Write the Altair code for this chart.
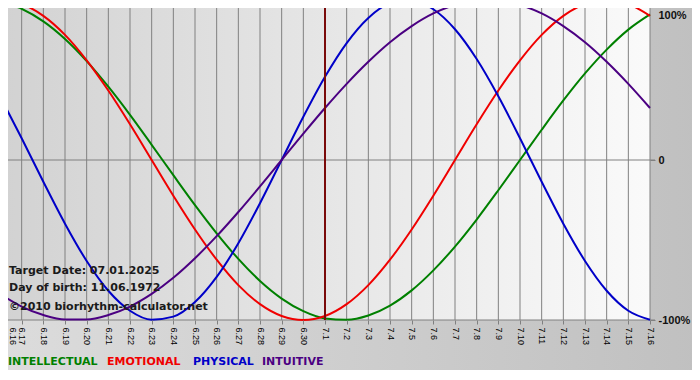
import json
import altair as alt
import pandas as pd

# ---------------- data ----------------
dates = ["6.16", "6.17", "6.18", "6.19", "6.20", "6.21", "6.22", "6.23", "6.24", "6.25",
         "6.26", "6.27", "6.28", "6.29", "6.30", "7.1", "7.2", "7.3", "7.4", "7.5",
         "7.6", "7.7", "7.8", "7.9", "7.10", "7.11", "7.12", "7.13", "7.14", "7.15", "7.16"]

intellectual = [0.990, 0.945, 0.866, 0.756, 0.618, 0.458, 0.282, 0.095, -0.095, -0.282,
                -0.458, -0.618, -0.756, -0.866, -0.945, -0.990, -0.999, -0.972, -0.910, -0.815,
                -0.690, -0.541, -0.372, -0.189, 0.000, 0.189, 0.372, 0.541, 0.690, 0.815, 0.910]
emotional = [1.000, 0.975, 0.901, 0.782, 0.623, 0.434, 0.223, 0.000, -0.223, -0.434,
             -0.623, -0.782, -0.901, -0.975, -1.000, -0.975, -0.901, -0.782, -0.623, -0.434,
             -0.223, 0.000, 0.223, 0.434, 0.623, 0.782, 0.901, 0.975, 1.000, 0.975, 0.901]
physical = [0.398, 0.136, -0.136, -0.398, -0.631, -0.817, -0.942, -0.998, -0.979, -0.888,
            -0.731, -0.520, -0.270, 0.000, 0.270, 0.520, 0.731, 0.888, 0.979, 0.998,
            0.942, 0.817, 0.631, 0.398, 0.136, -0.136, -0.398, -0.631, -0.817, -0.942, -0.998]
intuitive = [-0.837, -0.916, -0.969, -0.997, -0.997, -0.969, -0.916, -0.837, -0.736, -0.614,
             -0.476, -0.325, -0.165, 0.000, 0.165, 0.325, 0.476, 0.614, 0.736, 0.837,
             0.916, 0.969, 0.997, 0.997, 0.969, 0.916, 0.837, 0.736, 0.614, 0.476, 0.325]

series_names = ["INTELLECTUAL", "EMOTIONAL", "PHYSICAL", "INTUITIVE"]
series_colors = ["#008000", "#f00000", "#0000c8", "#4b0082"]

target_date = "7.1"
info_lines = ["Target Date: 07.01.2025", "Day of birth: 11.06.1972", "\u00a92010 biorhythm-calculator.net"]

y_ticks = [1, 0, -1]
y_labels = ["100%", "0", "-100%"]

# ---------------- tables ----------------
series_values = [intellectual, emotional, physical, intuitive]
rows = []
for name, vals in zip(series_names, series_values):
    for i, v in enumerate(vals):
        rows.append({"d": i, "v": v, "series": name})
curves_df = pd.DataFrame(rows)
days_df = pd.DataFrame({"d": list(range(len(dates))), "label": dates})
target_df = pd.DataFrame({"d": [dates.index(target_date)]})
hgrid_df = pd.DataFrame({"v": y_ticks, "label": y_labels})
one = pd.DataFrame({"k": [0]})

W, H = 650, 320
xs = alt.Scale(domain=[0, len(dates) - 1], nice=False, zero=False)
ys = alt.Scale(domain=[-1, 1], nice=False, zero=False)

x_label_expr = json.dumps(dates) + "[datum.value]"
y_label_expr = ""
for t, l in zip(y_ticks[:-1], y_labels[:-1]):
    y_label_expr += "datum.value == %s ? '%s' : " % (t, l)
y_label_expr += "'%s'" % y_labels[-1]

x_axis = alt.Axis(values=list(range(len(dates))), labelExpr=x_label_expr, labelAngle=90,
                  labelFont="Liberation Sans", labelFontSize=9, labelColor="#000000",
                  labelFlush=False, labelOverlap=False, grid=False, domain=False,
                  ticks=True, tickSize=4, tickColor="#808080", labelPadding=3,
                  labelOffset={"condition": {"test": "datum.value == 0", "value": 12}, "value": 0},
                  title=None, zindex=1)
y_axis = alt.Axis(orient="right", values=y_ticks, labelExpr=y_label_expr,
                  labelFont="Liberation Sans", labelFontSize=11, labelFontWeight="bold",
                  labelColor="#111111", labelFlush=False, grid=False, domain=False,
                  ticks=True, tickSize=5, tickColor="#808080", labelPadding=3,
                  labelBaseline={"condition": {"test": "datum.value == 1", "value": "top"}, "value": "middle"},
                  labelOffset={"condition": {"test": "datum.value == 1", "value": 9}, "value": 0},
                  title=None, zindex=1)

frame_grad = alt.LinearGradient(gradient="linear",
                                stops=[alt.GradientStop(color="#dcdcdc", offset=0),
                                       alt.GradientStop(color="#c0c0c0", offset=1)],
                                x1=0, x2=1, y1=0, y2=0)
plot_grad = alt.LinearGradient(gradient="linear",
                               stops=[alt.GradientStop(color="#d2d2d2", offset=0),
                                      alt.GradientStop(color="#fafafa", offset=1)],
                               x1=0, x2=1, y1=0, y2=0)

frame = alt.Chart(one).mark_rect(fill=frame_grad).encode(
    x=alt.value(0), x2=alt.value(700), y=alt.value(0), y2=alt.value(370))
plot_bg = alt.Chart(one).mark_rect(fill=plot_grad).encode(
    x=alt.value(0), x2=alt.value(W), y=alt.value(0), y2=alt.value(H))

vgrid = alt.Chart(days_df).mark_rule(color="#808080", strokeWidth=1).encode(
    x=alt.X("d:Q", scale=xs, axis=x_axis), y=alt.value(0), y2=alt.value(H))
hgrid = alt.Chart(hgrid_df).mark_rule(color="#808080", strokeWidth=1).encode(
    y=alt.Y("v:Q", scale=ys, axis=y_axis), x=alt.value(0), x2=alt.value(W + 5))

curves = alt.Chart(curves_df).mark_line(strokeWidth=2, interpolate="monotone").encode(
    x=alt.X("d:Q", scale=xs, axis=x_axis),
    y=alt.Y("v:Q", scale=ys, axis=y_axis),
    color=alt.Color("series:N", scale=alt.Scale(domain=series_names, range=series_colors), legend=None),
    detail="series:N",
)

target = alt.Chart(target_df).mark_rule(color="#7a0a0a", strokeWidth=2).encode(
    x=alt.X("d:Q", scale=xs, axis=x_axis), y=alt.value(0), y2=alt.value(H))

layers = [frame, plot_bg, vgrid, hgrid, curves, target]

info_y = [271, 288, 307]
for line, yy in zip(info_lines, info_y):
    layers.append(
        alt.Chart(pd.DataFrame({"t": [line]})).mark_text(
            align="left", baseline="middle", font="DejaVu Sans", fontSize=11,
            fontWeight="bold", color="#1a1a1a").encode(
            x=alt.value(9), y=alt.value(yy), text="t:N"))

legend_x = [8, 107, 193, 262]
for name, col, xx in zip(series_names, series_colors, legend_x):
    layers.append(
        alt.Chart(pd.DataFrame({"t": [name]})).mark_text(
            align="left", baseline="middle", font="DejaVu Sans", fontSize=11,
            fontWeight="bold", color=col).encode(
            x=alt.value(xx), y=alt.value(362), text="t:N"))

# SVG kept within the 700x380 window (page margin 8px) to avoid scrollbars
chart = alt.layer(*layers).properties(
    width=W, height=H,
    autosize=alt.AutoSizeParams(type="none"),
    padding={"left": -8, "top": -8, "right": 42, "bottom": 52},
    background="white",
).configure_view(strokeWidth=0)

chart.save("out.html", embed_options={"renderer": "svg", "actions": False})
